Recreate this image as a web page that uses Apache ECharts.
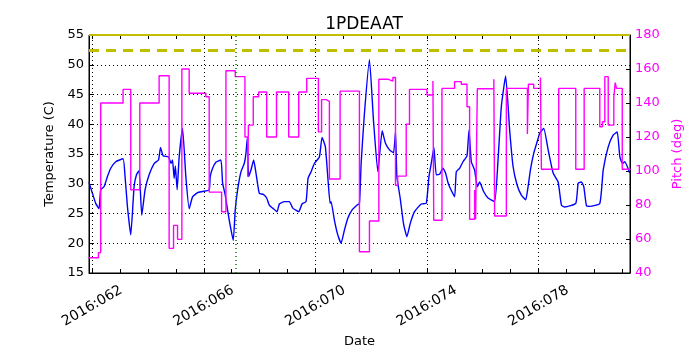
<!DOCTYPE html>
<html>
<head>
<meta charset="utf-8">
<script src="https://cdn.jsdelivr.net/npm/echarts@6/dist/echarts.min.js"></script>
<style>
  html, body { margin: 0; padding: 0; background: #fff; }
  #chart { width: 700px; height: 350px; }
</style>
</head>
<body>
<div id="chart"></div>
<script>
// day of year (2016) and temperature in C
const tempDays = [61.885, 62.007, 62.126, 62.244, 62.305, 62.424, 62.546, 62.664, 62.844, 63.106,
  63.178, 63.264, 63.382, 63.501, 63.587, 63.680, 63.777, 63.896, 64.040, 64.219,
  64.377, 64.449, 64.542, 64.736, 64.829, 64.880, 64.937, 64.980, 65.045, 65.117,
  65.239, 65.357, 65.476, 65.598, 65.778, 65.957, 66.194, 66.230, 66.316, 66.435,
  66.614, 66.675, 66.769, 66.912, 67.056, 67.128, 67.214, 67.332, 67.451, 67.512,
  67.558, 67.609, 67.691, 67.788, 67.871, 67.989, 68.133, 68.255, 68.348, 68.470,
  68.625, 68.708, 68.887, 69.067, 69.189, 69.404, 69.522, 69.666, 69.738, 69.846,
  69.964, 70.144, 70.241, 70.359, 70.445, 70.528, 70.564, 70.682, 70.804, 70.923,
  71.041, 71.163, 71.318, 71.487, 71.580, 71.641, 71.759, 71.939, 72.083, 72.241,
  72.395, 72.514, 72.657, 72.801, 72.873, 72.923, 73.041, 73.160, 73.282, 73.400,
  73.555, 73.795, 73.975, 74.072, 74.154, 74.251, 74.334, 74.453, 74.575, 74.668,
  74.754, 74.811, 74.991, 75.052, 75.171, 75.293, 75.436, 75.508, 75.591, 75.709,
  75.806, 75.889, 76.032, 76.190, 76.427, 76.549, 76.668, 76.822, 76.966, 77.088,
  77.232, 77.386, 77.540, 77.626, 77.709, 77.828, 77.986, 78.043, 78.187, 78.345,
  78.524, 78.704, 78.822, 78.941, 79.336, 79.422, 79.540, 79.623, 79.720, 79.838,
  80.197, 80.319, 80.499, 80.679, 80.822, 80.916, 81.013, 81.092, 81.272];
const tempVals = [30.2, 28.4, 26.7, 25.8, 29, 29.5, 31.2, 32.6, 33.7, 34.2,
  31.2, 26.1, 21.4, 29.5, 31.5, 32.2, 24.7, 29, 31.5, 33.4,
  34, 36.1, 34.7, 34.5, 33.4, 34, 30.9, 33, 29, 34.5,
  39.3, 31.2, 25.8, 27.8, 28.5, 28.7, 29, 31.2, 32.6, 33.6,
  34, 30.1, 28.1, 23.9, 20.5, 25.6, 29, 32, 33.4, 35.1,
  37.6, 31.2, 32.3, 34, 31.8, 28.4, 28.2, 27.6, 26.4, 25.9,
  25.3, 26.6, 27, 27, 25.9, 25.3, 26.6, 27, 30.9, 32,
  33.4, 34.5, 37.8, 36.2, 31.2, 26.7, 27, 23.9, 21.4, 20,
  22.2, 24.2, 25.6, 26.4, 26.7, 33.4, 41.8, 50.9, 40.7, 32,
  38.9, 36.8, 35.7, 35.2, 38.7, 31.2, 27.6, 23.3, 21.1, 23.3,
  25.3, 26.6, 26.7, 31.2, 33.4, 36.1, 31.5, 31.6, 32.6, 31.8,
  30.2, 29.5, 27.8, 32, 32.6, 33.7, 34.7, 39, 33.7, 32.3,
  29.5, 30.3, 28.7, 27.6, 27, 34, 43, 48.1, 39, 32.9,
  29.8, 28.1, 27.3, 29.5, 32.3, 35.1, 37.6, 38.5, 39.3, 35.7,
  31.8, 30.3, 26.4, 26.1, 26.7, 30.1, 30.3, 29.5, 26.3, 26.2,
  26.7, 32.3, 36.2, 38.2, 38.7, 34.5, 33.4, 33.7, 31.8];

// pitch in deg, each value held until the next day listed
const pitchDays = [61.874, 62.223, 62.305, 63.106, 63.382, 63.706, 64.399, 64.758, 64.916, 65.059,
  65.214, 65.476, 66.075, 66.194, 66.639, 66.794, 67.128, 67.476, 67.573, 67.601,
  67.774, 67.968, 68.255, 68.607, 69.045, 69.404, 69.691, 70.108, 70.223, 70.384,
  70.503, 70.887, 71.580, 71.939, 72.276, 72.600, 72.779, 72.873, 72.952, 73.257,
  73.375, 74.000, 74.215, 74.244, 74.539, 74.991, 75.232, 75.436, 75.530, 75.709,
  75.745, 75.806, 76.398, 76.427, 76.847, 77.601, 77.637, 77.828, 78.068, 78.104,
  78.725, 79.336, 79.637, 80.197, 80.294, 80.377, 80.499, 80.700, 80.750, 80.797,
  81.002, 81.300];
const pitchVals = [49, 52, 140, 148, 89, 140, 156, 54.5, 68, 59.8,
  160, 145.7, 143.7, 87.6, 76, 159, 155.5, 120, 96.6, 127,
  143.7, 146.5, 120, 146.5, 120, 146.5, 154.5, 123, 142, 141,
  95.3, 147, 52.5, 70.6, 154, 152.9, 155, 91.6, 97, 127.6,
  148, 144.7, 153, 71, 148.6, 152.6, 151, 137.8, 71.6, 88.8,
  71.6, 148.4, 154, 73.5, 148.6, 121.8, 151, 148.6, 155, 101,
  148.6, 101, 148.6, 126, 129, 155.5, 127, 143, 152, 148.6,
  101, 101];

const majorDays = [62, 66, 70, 74, 78];
const allDays = [62, 63, 64, 65, 66, 67, 68, 69, 70, 71, 72, 73, 74, 75, 76, 77, 78, 79, 80, 81];
const limitLine = 52.5;
const topLine = 55;
const eventDay = 67.13;

const chart = echarts.init(document.getElementById('chart'));
const font = 'DejaVu Sans';

const option = {
  animation: false,
  textStyle: { fontFamily: font },
  title: {
    text: '1PDEAAT',
    left: 359, top: 11, textAlign: 'center',
    textStyle: { fontFamily: font, fontSize: 17, fontWeight: 'normal', color: '#000' }
  },
  grid: {
    left: 89, right: 70, top: 35, bottom: 77,
    outerBoundsMode: 'none',
    show: true, borderColor: '#000', borderWidth: 1, backgroundColor: 'transparent'
  },
  xAxis: [
    {
      type: 'value', min: 61.885, max: 81.28, position: 'bottom',
      name: 'Date', nameLocation: 'middle', nameGap: 56,
      nameTextStyle: { fontFamily: font, fontSize: 13, color: '#000' },
      axisLine: { lineStyle: { color: '#000' } },
      axisTick: { inside: true, length: 4, customValues: allDays, lineStyle: { color: '#000' } },
      axisLabel: {
        customValues: majorDays, rotate: 30, fontSize: 14, color: '#000', margin: 33,
        align: 'center', verticalAlign: 'middle',
        formatter: v => '2016:0' + v
      },
      splitLine: { show: false }
    },
    {
      type: 'value', min: 61.885, max: 81.28, position: 'top',
      axisLine: { show: false },
      axisTick: { inside: true, length: 4, customValues: allDays, lineStyle: { color: '#000' } },
      axisLabel: { show: false },
      splitLine: { show: false }
    }
  ],
  yAxis: [
    {
      type: 'value', min: 15, max: 55, interval: 5, position: 'left',
      name: 'Temperature (C)', nameLocation: 'middle', nameGap: 30, nameRotate: 90,
      nameTextStyle: { fontFamily: font, fontSize: 13, color: '#000' },
      axisLine: { show: true, lineStyle: { color: '#000' } },
      axisTick: { show: true, inside: true, length: 4, lineStyle: { color: '#000' } },
      axisLabel: { fontSize: 13, color: '#000', margin: 5 },
      splitLine: { show: true, lineStyle: { color: '#000', type: [1, 3], width: 1 } }
    },
    {
      type: 'value', min: 40, max: 180, interval: 20, position: 'right',
      name: 'Pitch (deg)', nameLocation: 'middle', nameGap: 37, nameRotate: 90,
      nameTextStyle: { fontFamily: font, fontSize: 13, color: '#ff00ff' },
      axisLine: { show: true, lineStyle: { color: '#000' } },
      axisTick: { show: true, inside: true, length: 4, lineStyle: { color: '#000' } },
      axisLabel: { fontSize: 13, color: '#ff00ff', margin: 5 },
      splitLine: { show: false }
    }
  ],
  series: [
    {
      name: 'Temperature',
      type: 'line', xAxisIndex: 0, yAxisIndex: 0,
      data: tempDays.map((d, i) => [d, tempVals[i]]),
      showSymbol: false, smooth: 0.15,
      lineStyle: { color: '#0000ff', width: 1.4 },
      z: 3,
      markLine: {
        silent: true, symbol: 'none', label: { show: false }, animation: false,
        data: [
          ...majorDays.map(d => ({ xAxis: d, lineStyle: { color: '#000', type: [1, 3], width: 1 } })),
          { xAxis: eventDay, lineStyle: { color: '#008000', type: [1, 3], width: 1.5 } },
          { yAxis: limitLine, lineStyle: { color: '#bfbf00', type: [10, 7], width: 3 } },
          { yAxis: topLine, lineStyle: { color: '#bfbf00', type: 'solid', width: 2 } }
        ]
      }
    },
    {
      name: 'Pitch',
      type: 'line', xAxisIndex: 0, yAxisIndex: 1,
      data: pitchDays.map((d, i) => [d, pitchVals[i]]),
      step: 'end', showSymbol: false,
      lineStyle: { color: '#ff00ff', width: 1.4 },
      z: 4
    }
  ]
};

chart.setOption(option);
</script>
</body>
</html>
